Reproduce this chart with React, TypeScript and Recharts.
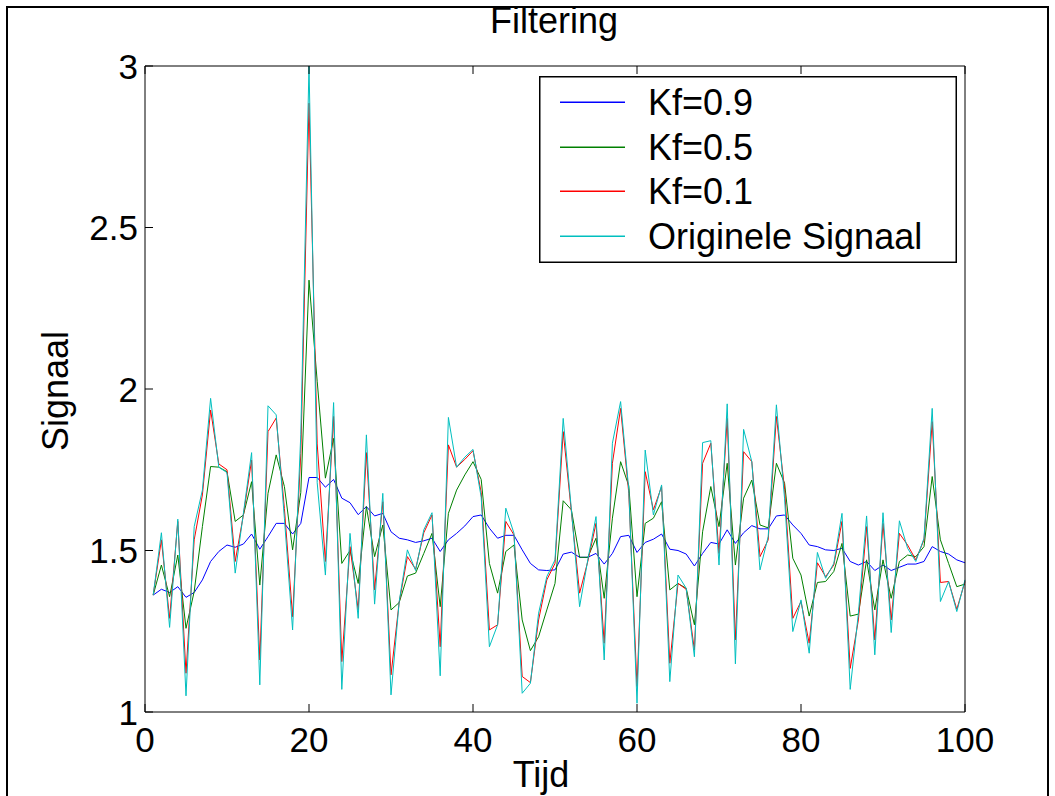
import { Line, LineChart, XAxis, YAxis } from 'recharts';

// Tijd-as: monsters 1..100
const tijd = Array.from({ length: 100 }, (_, i) => i + 1);

// Originele Signaal (cyaan)
const origineel = [
  1.362, 1.555, 1.262, 1.597, 1.05, 1.574, 1.687, 1.971, 1.758, 1.741,
  1.43, 1.615, 1.803, 1.084, 1.948, 1.92, 1.6, 1.254, 1.86, 3.0,
  1.71, 1.424, 1.958, 1.07, 1.553, 1.29, 1.858, 1.334, 1.677, 1.053,
  1.342, 1.502, 1.438, 1.564, 1.617, 1.112, 1.912, 1.758, 1.789, 1.813,
  1.665, 1.202, 1.27, 1.631, 1.553, 1.058, 1.089, 1.306, 1.419, 1.471,
  1.909, 1.626, 1.326, 1.471, 1.605, 1.161, 1.832, 1.961, 1.688, 1.027,
  1.811, 1.61, 1.703, 1.094, 1.424, 1.383, 1.171, 1.834, 1.84, 1.455,
  1.954, 1.149, 1.875, 1.775, 1.44, 1.543, 1.951, 1.66, 1.249, 1.347,
  1.182, 1.494, 1.414, 1.46, 1.615, 1.07, 1.306, 1.607, 1.177, 1.617,
  1.246, 1.592, 1.507, 1.466, 1.538, 1.94, 1.342, 1.404, 1.311, 1.409,
];

// Kf=0.1 (rood)
const kf01 = [
  1.362, 1.533, 1.29, 1.59, 1.12, 1.533, 1.672, 1.935, 1.768, 1.75,
  1.466, 1.61, 1.78, 1.161, 1.868, 1.91, 1.63, 1.295, 1.8, 2.885,
  1.83, 1.466, 1.915, 1.156, 1.512, 1.316, 1.803, 1.378, 1.651, 1.115,
  1.34, 1.481, 1.442, 1.555, 1.61, 1.202, 1.827, 1.758, 1.782, 1.809,
  1.68, 1.254, 1.27, 1.59, 1.548, 1.11, 1.091, 1.285, 1.409, 1.46,
  1.868, 1.62, 1.368, 1.466, 1.584, 1.213, 1.77, 1.94, 1.677, 1.079,
  1.744, 1.626, 1.698, 1.151, 1.398, 1.38, 1.192, 1.77, 1.832, 1.491,
  1.909, 1.223, 1.806, 1.775, 1.481, 1.533, 1.915, 1.69, 1.29, 1.342,
  1.213, 1.462, 1.419, 1.455, 1.59, 1.135, 1.285, 1.574, 1.223, 1.584,
  1.285, 1.553, 1.517, 1.471, 1.533, 1.899, 1.401, 1.404, 1.318, 1.404,
];

// Kf=0.5 (groen)
const kf05 = [
  1.362, 1.455, 1.357, 1.486, 1.259, 1.373, 1.574, 1.76, 1.758, 1.744,
  1.59, 1.61, 1.713, 1.393, 1.677, 1.796, 1.698, 1.502, 1.68, 2.337,
  2.024, 1.724, 1.847, 1.46, 1.5, 1.398, 1.636, 1.481, 1.579, 1.316,
  1.339, 1.421, 1.43, 1.491, 1.553, 1.326, 1.615, 1.687, 1.734, 1.775,
  1.72, 1.46, 1.368, 1.497, 1.517, 1.285, 1.19, 1.233, 1.316, 1.398,
  1.654, 1.626, 1.479, 1.479, 1.538, 1.352, 1.6, 1.775, 1.7, 1.357,
  1.584, 1.6, 1.651, 1.378, 1.398, 1.383, 1.27, 1.558, 1.698, 1.574,
  1.77, 1.455, 1.662, 1.718, 1.579, 1.57, 1.77, 1.708, 1.476, 1.424,
  1.297, 1.401, 1.404, 1.435, 1.522, 1.297, 1.303, 1.471, 1.316, 1.471,
  1.352, 1.466, 1.486, 1.481, 1.512, 1.729, 1.533, 1.46, 1.388, 1.396,
];

// Kf=0.9 (blauw)
const kf09 = [
  1.362, 1.38, 1.37, 1.388, 1.355, 1.37, 1.409, 1.466, 1.497, 1.517,
  1.51, 1.52, 1.551, 1.504, 1.543, 1.584, 1.584, 1.551, 1.584, 1.726,
  1.726, 1.696, 1.72, 1.662, 1.648, 1.611, 1.636, 1.607, 1.615, 1.558,
  1.538, 1.533, 1.525, 1.53, 1.538, 1.497, 1.533, 1.553, 1.576, 1.605,
  1.61, 1.569, 1.538, 1.547, 1.547, 1.502, 1.46, 1.44, 1.438, 1.44,
  1.489, 1.495, 1.479, 1.479, 1.491, 1.458, 1.491, 1.543, 1.547, 1.494,
  1.525, 1.535, 1.551, 1.504, 1.5, 1.489, 1.452, 1.491, 1.525, 1.52,
  1.564, 1.522, 1.555, 1.577, 1.567, 1.567, 1.607, 1.61, 1.579, 1.553,
  1.517, 1.512, 1.502, 1.5, 1.507, 1.466, 1.455, 1.466, 1.438, 1.455,
  1.438, 1.448, 1.458, 1.458, 1.466, 1.512, 1.497, 1.489, 1.471, 1.462,
];

const xTicks = [0, 20, 40, 60, 80, 100];
const yTicks = [1, 1.5, 2, 2.5, 3];

const series = [
  { key: 'kf09', name: 'Kf=0.9', color: '#0000ff' },
  { key: 'kf05', name: 'Kf=0.5', color: '#008000' },
  { key: 'kf01', name: 'Kf=0.1', color: '#ff0000' },
  { key: 'origineel', name: 'Originele Signaal', color: '#00bfbf' },
];

const chartData = tijd.map((t, i) => ({
  t,
  kf09: kf09[i],
  kf05: kf05[i],
  kf01: kf01[i],
  origineel: origineel[i],
}));

// plotkader (px)
const W = 1055;
const H = 796;
const LEFT = 145;
const RIGHT = 965;
const TOP = 66;
const BOTTOM = 712;
const TICK = 8;
const FONT = '"Liberation Sans", Arial, Helvetica, sans-serif';

const BottomTick = ({ x, payload }: any) => (
  <g>
    <line x1={x} x2={x} y1={BOTTOM} y2={BOTTOM - TICK} stroke="#000" />
    <text x={x} y={BOTTOM + 40} textAnchor="middle" fontSize={35} fontFamily={FONT} fill="#000">
      {payload.value}
    </text>
  </g>
);

const TopTick = ({ x }: any) => <line x1={x} x2={x} y1={TOP} y2={TOP + TICK} stroke="#000" />;

const LeftTick = ({ y, payload }: any) => (
  <g>
    <line x1={LEFT} x2={LEFT + TICK} y1={y} y2={y} stroke="#000" />
    <text x={LEFT - 7} y={y + 12.5} textAnchor="end" fontSize={35} fontFamily={FONT} fill="#000">
      {payload.value}
    </text>
  </g>
);

const RightTick = ({ y }: any) => <line x1={RIGHT - TICK} x2={RIGHT} y1={y} y2={y} stroke="#000" />;

export default function App() {
  return (
    <div style={{ position: 'absolute', left: 0, top: 0, width: W, height: H, background: '#fff', overflow: 'hidden' }}>
      <LineChart
        width={W}
        height={H}
        data={chartData}
        margin={{ top: TOP - 10, right: W - RIGHT - 10, bottom: H - BOTTOM - 40, left: LEFT - 60 }}
      >
        <XAxis
          dataKey="t"
          type="number"
          domain={[0, 100]}
          ticks={xTicks}
          height={40}
          tickLine={false}
          axisLine={{ stroke: '#000' }}
          tick={<BottomTick />}
        />
        <XAxis
          xAxisId="top"
          dataKey="t"
          type="number"
          orientation="top"
          domain={[0, 100]}
          ticks={xTicks}
          height={10}
          tickLine={false}
          axisLine={{ stroke: '#000' }}
          tick={<TopTick />}
        />
        <YAxis
          type="number"
          domain={[1, 3]}
          ticks={yTicks}
          width={60}
          tickLine={false}
          axisLine={{ stroke: '#000' }}
          tick={<LeftTick />}
        />
        <YAxis
          yAxisId="right"
          type="number"
          orientation="right"
          domain={[1, 3]}
          ticks={yTicks}
          width={10}
          tickLine={false}
          axisLine={{ stroke: '#000' }}
          tick={<RightTick />}
        />
        {series.map((s) => (
          <Line
            key={s.key}
            type="linear"
            dataKey={s.key}
            name={s.name}
            stroke={s.color}
            strokeWidth={1}
            dot={false}
            activeDot={false}
            isAnimationActive={false}
          />
        ))}
      </LineChart>

      {/* titel, aslabels en figuurrand */}
      <svg width={W} height={H} style={{ position: 'absolute', left: 0, top: 0, pointerEvents: 'none' }}>
        <path d={`M7 ${H} V7 H1048 V${H}`} fill="none" stroke="#000" strokeWidth={2} />
        <text x={554} y={33} textAnchor="middle" fontSize={36} fontFamily={FONT} fill="#000">
          Filtering
        </text>
        <text x={541} y={787} textAnchor="middle" fontSize={36} fontFamily={FONT} fill="#000">
          Tijd
        </text>
        <text
          x={0}
          y={0}
          transform={`translate(68 ${(TOP + BOTTOM) / 2 + 2}) rotate(-90)`}
          textAnchor="middle"
          fontSize={36}
          fontFamily={FONT}
          fill="#000"
        >
          Signaal
        </text>
      </svg>

      {/* legenda */}
      <svg
        width={418}
        height={187}
        style={{ position: 'absolute', left: 539, top: 76, pointerEvents: 'none' }}
      >
        <rect x={0.75} y={0.75} width={416.5} height={185.5} fill="#fff" stroke="#000" strokeWidth={1.5} />
        {series.map((s, i) => {
          const cy = Math.round(26 + i * 44.7);
          return (
            <g key={s.key}>
              <rect x={21} y={cy - 0.5} width={65} height={1.5} fill={s.color} />
              <text x={109} y={cy + 12.5} fontSize={36} fontFamily={FONT} fill="#000">
                {s.name}
              </text>
            </g>
          );
        })}
      </svg>
    </div>
  );
}
